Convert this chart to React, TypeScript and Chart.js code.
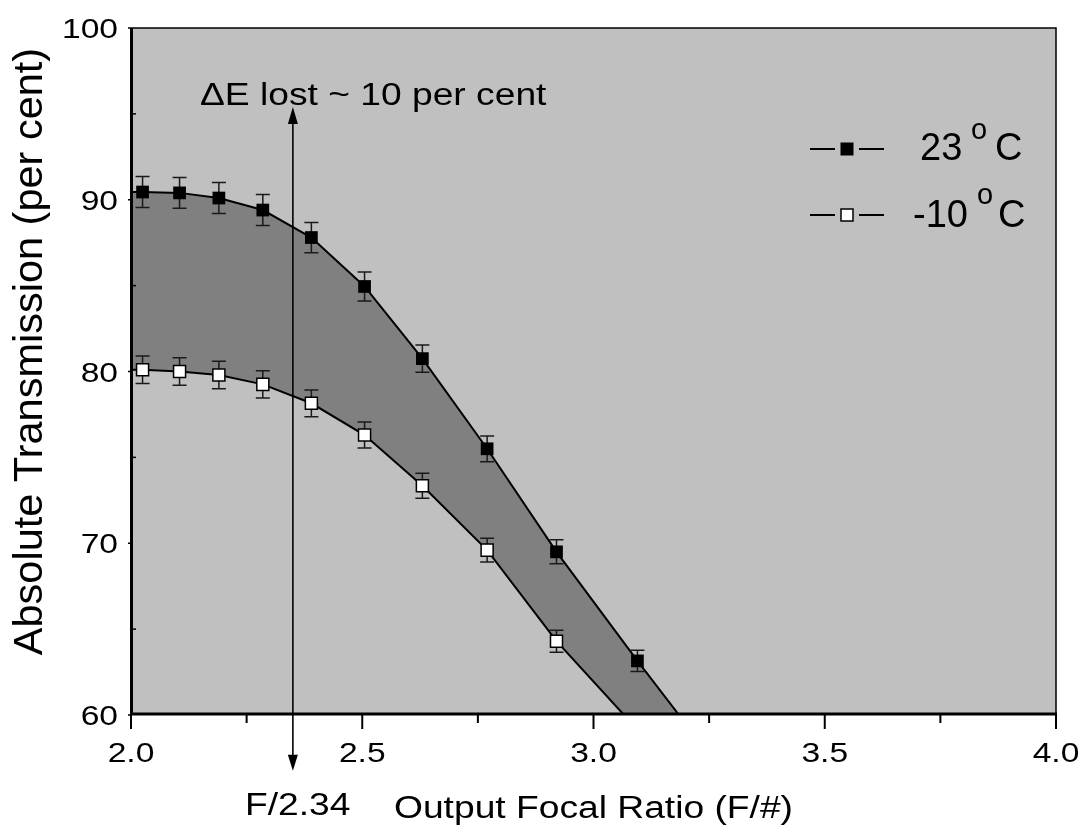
import React, { useEffect, useRef } from 'react';
import { Chart, registerables } from 'chart.js';

Chart.register(...registerables);

// ---- data ----
const focalRatio = [2.025, 2.105, 2.19, 2.285, 2.39, 2.505, 2.63, 2.77, 2.92, 3.095];
const trans23 = [90.45, 90.4, 90.1, 89.4, 87.8, 84.95, 80.75, 75.5, 69.5, 63.15];
const err23 = [0.9, 0.9, 0.9, 0.9, 0.88, 0.85, 0.8, 0.75, 0.7, 0.62];
const transM10 = [80.1, 80.0, 79.8, 79.25, 78.15, 76.3, 73.35, 69.6, 64.3];
const errM10 = [0.8, 0.8, 0.8, 0.8, 0.78, 0.76, 0.73, 0.69, 0.64];
// fitted curve end points (curves run from the left axis down to the bottom axis)
const curveEnds23: [number, number][] = [[2.0, 90.45], [3.185, 60]];
const curveEndsM10: [number, number][] = [[2.0, 80.1], [3.066, 60]];

const xTicks = [2.0, 2.5, 3.0, 3.5, 4.0];
const xMinorTicks = [2.25, 2.75, 3.25, 3.75];
const yTicks = [60, 70, 80, 90, 100];
const yMinorTicks = [65, 75, 85, 95];
const seriesLabels = ['23', '-10'];
const arrowX = 2.35;
const arrowTop = 95.4;
const arrowBottom = 56.75;

const FONT = '"Liberation Sans", Arial, Helvetica, sans-serif';
const SX = 1.2;

function txt(ctx: CanvasRenderingContext2D, s: string, x: number, y: number, size: number, align: string, sx = SX) {
  ctx.font = `${size}px ${FONT}`;
  const w = ctx.measureText(s).width * sx;
  const x0 = align === 'left' ? x : align === 'center' ? x - w / 2 : x - w;
  ctx.save();
  ctx.translate(x0, y);
  ctx.scale(sx, 1);
  ctx.textAlign = 'left';
  ctx.textBaseline = 'alphabetic';
  ctx.fillStyle = '#000';
  ctx.fillText(s, 0, 0);
  ctx.restore();
}

function errorBars(chart: any, xs: number[], ys: number[], es: number[]) {
  const xs_ = chart.scales.x;
  const ys_ = chart.scales.y;
  const ctx: CanvasRenderingContext2D = chart.ctx;
  ctx.save();
  ctx.strokeStyle = '#1a1a1a';
  ctx.lineWidth = 1.5;
  ys.forEach((v, i) => {
    const px = xs_.getPixelForValue(xs[i]);
    const top = ys_.getPixelForValue(v + es[i]);
    const bot = ys_.getPixelForValue(v - es[i]);
    ctx.beginPath();
    ctx.moveTo(px, top);
    ctx.lineTo(px, bot);
    ctx.moveTo(px - 7, top);
    ctx.lineTo(px + 7, top);
    ctx.moveTo(px - 7, bot);
    ctx.lineTo(px + 7, bot);
    ctx.stroke();
  });
  ctx.restore();
}

const figurePlugin = {
  id: 'figure',
  beforeDraw(chart: any) {
    const { ctx, chartArea: a } = chart;
    ctx.save();
    ctx.fillStyle = '#ffffff';
    ctx.fillRect(0, 0, chart.width, chart.height);
    ctx.fillStyle = '#c0c0c0';
    ctx.fillRect(a.left, a.top, a.right - a.left, a.bottom - a.top);
    ctx.restore();
  },
  afterDatasetDraw(chart: any, args: any) {
    if (args.index === 1) {
      errorBars(chart, focalRatio, trans23, err23);
      errorBars(chart, focalRatio, transM10, errM10);
    }
  },
  afterDatasetsDraw(chart: any) {
    const { ctx, chartArea: a } = chart;
    const sx = chart.scales.x;
    const sy = chart.scales.y;
    ctx.save();
    ctx.strokeStyle = '#000';
    ctx.fillStyle = '#000';
    // frame
    ctx.lineWidth = 1.5;
    ctx.beginPath();
    ctx.moveTo(a.left, a.top);
    ctx.lineTo(a.right, a.top);
    ctx.lineTo(a.right, a.bottom);
    ctx.stroke();
    ctx.lineWidth = 3;
    ctx.beginPath();
    ctx.moveTo(a.left + 0.5, a.top);
    ctx.lineTo(a.left + 0.5, a.bottom - 1);
    ctx.lineTo(a.right + 1, a.bottom - 1);
    ctx.stroke();
    // x ticks
    ctx.lineWidth = 2;
    xTicks.forEach((v) => {
      const p = sx.getPixelForValue(v);
      ctx.beginPath();
      ctx.moveTo(p, a.bottom);
      ctx.lineTo(p, a.bottom + 14);
      ctx.stroke();
      txt(ctx, v.toFixed(1), p, a.bottom + 47, 28, 'center');
    });
    xMinorTicks.forEach((v) => {
      const p = sx.getPixelForValue(v);
      ctx.beginPath();
      ctx.moveTo(p, a.bottom);
      ctx.lineTo(p, a.bottom + 8);
      ctx.stroke();
    });
    // y ticks
    ctx.lineWidth = 1.5;
    yTicks.forEach((v) => {
      const p = sy.getPixelForValue(v);
      ctx.beginPath();
      ctx.moveTo(a.left - 3, p);
      ctx.lineTo(a.left, p);
      ctx.stroke();
      txt(ctx, String(v), 118, p + 10, 28, 'right');
    });
    yMinorTicks.forEach((v) => {
      const p = sy.getPixelForValue(v);
      ctx.beginPath();
      ctx.moveTo(a.left + 1, p);
      ctx.lineTo(a.left + 5, p);
      ctx.stroke();
    });
    // axis titles
    txt(ctx, 'Output Focal Ratio (F/#)', (a.left + a.right) / 2, 818, 31, 'center');
    ctx.save();
    ctx.translate(42, 351.5);
    ctx.rotate(-Math.PI / 2);
    ctx.font = `41.5px ${FONT}`;
    ctx.textAlign = 'center';
    ctx.textBaseline = 'alphabetic';
    ctx.fillText('Absolute Transmission (per cent)', 0, 0);
    ctx.restore();
    // arrow
    const ax = sx.getPixelForValue(arrowX);
    const at = sy.getPixelForValue(arrowTop);
    const ab = sy.getPixelForValue(arrowBottom);
    ctx.lineWidth = 1.6;
    ctx.beginPath();
    ctx.moveTo(ax, at + 10);
    ctx.lineTo(ax, ab - 10);
    ctx.stroke();
    ctx.beginPath();
    ctx.moveTo(ax, at);
    ctx.lineTo(ax - 5, at + 17);
    ctx.lineTo(ax + 5, at + 17);
    ctx.closePath();
    ctx.fill();
    ctx.beginPath();
    ctx.moveTo(ax, ab);
    ctx.lineTo(ax - 5, ab - 16);
    ctx.lineTo(ax + 5, ab - 16);
    ctx.closePath();
    ctx.fill();
    txt(ctx, '\u0394E lost ~ 10 per cent', 200, 105, 31, 'left');
    txt(ctx, 'F/2.34', 245, 815, 31, 'left');
    // legend
    const rows = [149, 215];
    rows.forEach((ry, i) => {
      ctx.strokeStyle = '#000';
      ctx.lineWidth = 2;
      ctx.beginPath();
      ctx.moveTo(810, ry);
      ctx.lineTo(835, ry);
      ctx.moveTo(859, ry);
      ctx.lineTo(884, ry);
      ctx.stroke();
      if (i === 0) {
        ctx.fillStyle = '#000';
        ctx.fillRect(840.5, ry - 6.5, 13, 13);
      } else {
        ctx.fillStyle = '#fff';
        ctx.fillRect(841, ry - 6, 12, 12);
        ctx.lineWidth = 1.5;
        ctx.strokeRect(841, ry - 6, 12, 12);
      }
      ctx.fillStyle = '#000';
    });
    txt(ctx, seriesLabels[0], 920, 160, 38, 'left', 1);
    txt(ctx, 'o', 971, 139, 29, 'left', 1);
    txt(ctx, 'C', 995, 160, 38, 'left', 1);
    txt(ctx, seriesLabels[1], 913, 227, 38, 'left', 1);
    txt(ctx, 'o', 977, 204, 29, 'left', 1);
    txt(ctx, 'C', 998, 227, 38, 'left', 1);
    ctx.restore();
  },
};

export default function App() {
  const ref = useRef<HTMLCanvasElement>(null);
  useEffect(() => {
    if (!ref.current) return;
    const pts23 = focalRatio.map((x, i) => ({ x, y: trans23[i] }));
    const ptsM10 = transM10.map((y, i) => ({ x: focalRatio[i], y }));
    const curve23 = [
      { x: curveEnds23[0][0], y: curveEnds23[0][1] },
      ...pts23,
      { x: curveEnds23[1][0], y: curveEnds23[1][1] },
    ];
    const curveM10 = [
      { x: curveEndsM10[0][0], y: curveEndsM10[0][1] },
      ...ptsM10,
      { x: curveEndsM10[1][0], y: curveEndsM10[1][1] },
    ];
    const chart = new Chart(ref.current, {
      type: 'line',
      data: {
        datasets: [
          {
            label: '23 oC curve',
            data: curve23,
            borderColor: '#000',
            borderWidth: 2,
            pointRadius: 0,
            fill: 'start',
            backgroundColor: '#808080',
            tension: 0,
            order: 4,
          },
          {
            label: '-10 oC curve',
            data: curveM10,
            borderColor: '#000',
            borderWidth: 2,
            pointRadius: 0,
            fill: 'start',
            backgroundColor: '#c0c0c0',
            tension: 0,
            order: 3,
          },
          {
            label: '23 oC',
            data: pts23,
            showLine: false,
            pointStyle: 'rect',
            pointRadius: 9,
            pointBackgroundColor: '#000',
            pointBorderColor: '#000',
            pointBorderWidth: 0,
            order: 2,
          },
          {
            label: '-10 oC',
            data: ptsM10,
            showLine: false,
            pointStyle: 'rect',
            pointRadius: 8.5,
            pointBackgroundColor: '#fff',
            pointBorderColor: '#000',
            pointBorderWidth: 1.5,
            order: 1,
          },
        ] as any,
      },
      options: {
        responsive: false,
        animation: false,
        events: [],
        layout: { padding: { left: 131, top: 28, right: 24, bottom: 113 } },
        plugins: { legend: { display: false }, tooltip: { enabled: false } },
        scales: {
          x: { type: 'linear', min: 2, max: 4, display: false },
          y: { type: 'linear', min: 60, max: 100, display: false },
        },
      },
      plugins: [figurePlugin],
    });
    return () => chart.destroy();
  }, []);
  return (
    <div style={{ position: 'fixed', left: 0, top: 0, width: 1080, height: 828, background: '#fff' }}>
      <canvas ref={ref} width={1080} height={828} style={{ display: 'block', width: 1080, height: 828 }} />
    </div>
  );
}
